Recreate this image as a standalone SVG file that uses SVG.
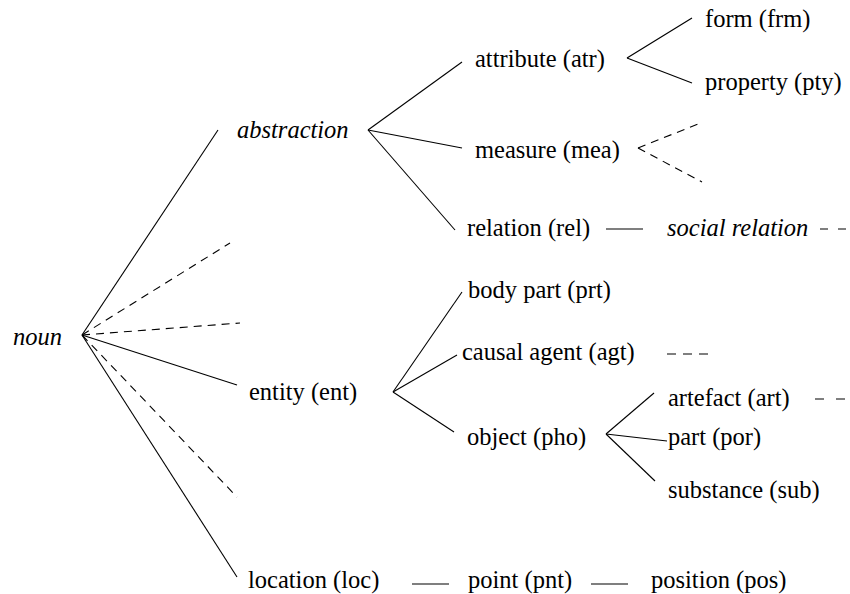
<svg xmlns="http://www.w3.org/2000/svg" width="850" height="594" viewBox="0 0 850 594">
<style>
.s{stroke:#000;stroke-width:1.1;fill:none}
.d{stroke:#000;stroke-width:1.1;fill:none;stroke-dasharray:8 6}
</style>
<rect width="850" height="594" fill="#fff"/>
<g id="connectors">
<line class="s" x1="82" y1="335" x2="218" y2="130"/>
<line class="d" x1="82" y1="335" x2="230" y2="243"/>
<line class="d" x1="82" y1="335" x2="240" y2="323"/>
<line class="s" x1="82" y1="335" x2="237" y2="385"/>
<line class="d" x1="82" y1="335" x2="237" y2="497"/>
<line class="s" x1="82" y1="335" x2="237" y2="577"/>
<line class="s" x1="368" y1="130" x2="462" y2="62"/>
<line class="s" x1="368" y1="130" x2="462" y2="148"/>
<line class="s" x1="368" y1="130" x2="455" y2="230"/>
<line class="s" x1="627" y1="58" x2="692" y2="18"/>
<line class="s" x1="627" y1="58" x2="692" y2="83"/>
<line class="d" x1="638" y1="148" x2="703" y2="122"/>
<line class="d" x1="638" y1="148" x2="702" y2="182"/>
<line class="s" x1="606" y1="229" x2="643" y2="229"/>
<line class="d" x1="820" y1="229" x2="848" y2="229" style="stroke-dasharray:8 10"/>
<line class="s" x1="393" y1="392" x2="462" y2="292"/>
<line class="s" x1="393" y1="392" x2="457" y2="355"/>
<line class="s" x1="393" y1="392" x2="454" y2="432"/>
<line class="d" x1="667" y1="354" x2="709" y2="354" style="stroke-dasharray:9 7"/>
<line class="s" x1="606" y1="434" x2="654" y2="393"/>
<line class="s" x1="606" y1="434" x2="667" y2="441"/>
<line class="s" x1="606" y1="434" x2="655" y2="481"/>
<line class="d" x1="815" y1="399" x2="845" y2="399" style="stroke-dasharray:9 12"/>
<line class="s" x1="412" y1="584" x2="449" y2="584"/>
<line class="s" x1="591" y1="584" x2="628" y2="584"/>
</g>
<g font-family="'Liberation Serif', 'Times New Roman', Times, 'DejaVu Serif', serif" font-size="24.5" fill="#000">
<g id="noun"><text font-style="italic" x="13" y="345">noun</text></g>
<g id="abstraction"><text font-style="italic" x="237" y="138">abstraction</text></g>
<g id="attribute"><text x="475" y="67">attribute (atr)</text></g>
<g id="form"><text x="705" y="27">form (frm)</text></g>
<g id="property"><text x="705" y="90">property (pty)</text></g>
<g id="measure"><text x="475" y="158">measure (mea)</text></g>
<g id="relation"><text x="467" y="236">relation (rel)</text></g>
<g id="social-relation"><text font-style="italic" x="667" y="236">social relation</text></g>
<g id="entity"><text x="249" y="400">entity (ent)</text></g>
<g id="body-part"><text x="468" y="298">body part (prt)</text></g>
<g id="causal-agent"><text x="462" y="360">causal agent (agt)</text></g>
<g id="object"><text x="467" y="445">object (pho)</text></g>
<g id="artefact"><text x="668" y="406">artefact (art)</text></g>
<g id="part"><text x="668" y="445">part (por)</text></g>
<g id="substance"><text x="668" y="498">substance (sub)</text></g>
<g id="location"><text x="248" y="588">location (loc)</text></g>
<g id="point"><text x="468" y="588">point (pnt)</text></g>
<g id="position"><text x="651" y="588">position (pos)</text></g>
</g>
</svg>
